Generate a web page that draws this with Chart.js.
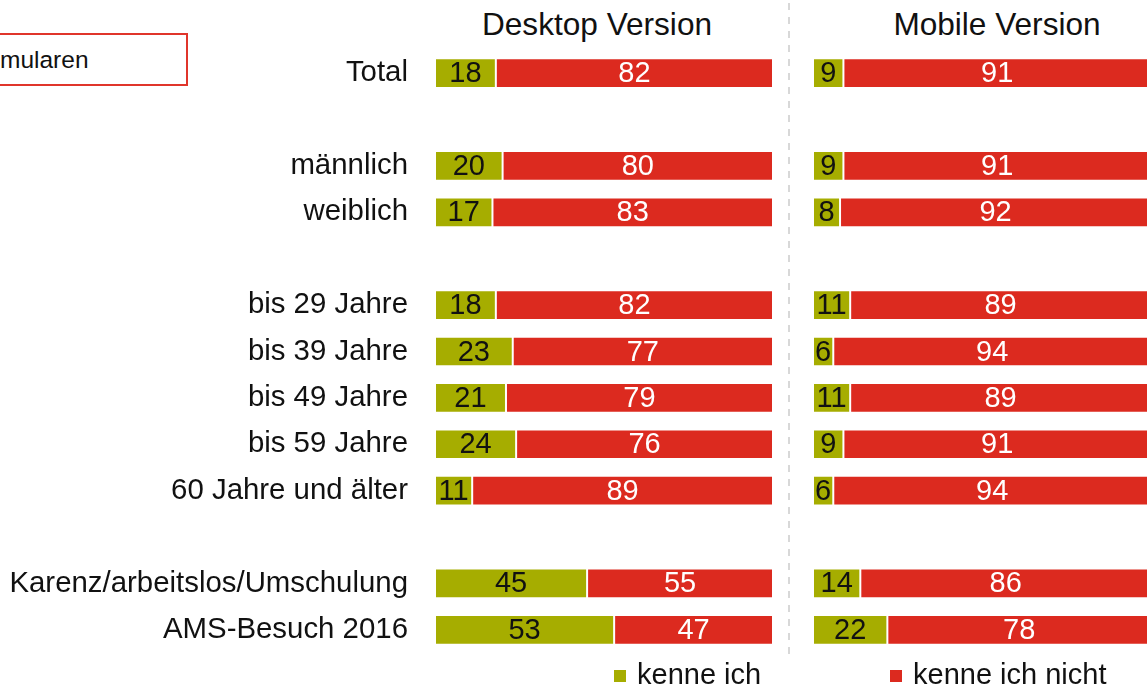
<!DOCTYPE html>
<html lang="de">
<head>
  <meta charset="UTF-8">
  <title>Desktop / Mobile Version</title>
  <style>
    body {
      margin: 0;
      width: 1147px;
      height: 685px;
      overflow: hidden;
      position: relative;
      background: #fff;
      font-family: "Liberation Sans", Arial, sans-serif;
      color: #111;
    }
    #desktop-chart { position: absolute; left: 0; top: 0; }
    #mobile-chart { position: absolute; left: 790px; top: 0; }

    .note {
      position: absolute;
      left: -20px;
      top: 33px;
      width: 186px;
      height: 49px;
      border: 2px solid #e0352b;
      font-size: 24.5px;
      line-height: 49px;
      padding-left: 18px;
      box-sizing: content-box;
    }
    .title {
      position: absolute;
      top: 8px;
      width: 400px;
      font-size: 31.6px;
      line-height: 32px;
      text-align: center;
    }
    .divider {
      position: absolute;
      left: 788px;
      top: 3px;
      width: 2px;
      height: 651px;
      background: repeating-linear-gradient(to bottom, #d8d8d8 0 7px, transparent 7px 14px);
    }
    .legend-item {
      position: absolute;
      top: 660px;
      font-size: 29px;
      line-height: 29px;
      white-space: nowrap;
    }
    .legend-item i {
      display: inline-block;
      width: 12px;
      height: 12px;
      margin-right: 11px;
      vertical-align: 2px;
    }
  </style>
</head>
<body>
  <div class="note">mularen</div>
  <div class="title" style="left: 397px;">Desktop Version</div>
  <div class="title" style="left: 797px;">Mobile Version</div>
  <div class="divider"></div>

  <canvas id="desktop-chart" width="790" height="685"></canvas>
  <canvas id="mobile-chart" width="380" height="685"></canvas>

  <div class="legend-item" style="left: 614px;"><i style="background:#a6ad00"></i>kenne ich</div>
  <div class="legend-item" style="left: 890px;"><i style="background:#dc2a1f"></i>kenne ich nicht</div>

  <script src="https://cdn.jsdelivr.net/npm/chart.js@4.4.1/dist/chart.umd.min.js"></script>
  <script>
    const GREEN = '#a6ad00';
    const RED = '#dc2a1f';

    // empty strings are the spacer rows between the groups
    const categories = [
      'Total', '',
      'männlich', 'weiblich', '',
      'bis 29 Jahre', 'bis 39 Jahre', 'bis 49 Jahre', 'bis 59 Jahre', '60 Jahre und älter', '',
      'Karenz/arbeitslos/Umschulung', 'AMS-Besuch 2016'
    ];

    const desktopKnown   = [18, null, 20, 17, null, 18, 23, 21, 24, 11, null, 45, 53];
    const desktopUnknown = [82, null, 80, 83, null, 82, 77, 79, 76, 89, null, 55, 47];
    const mobileKnown    = [9, null, 9, 8, null, 11, 6, 11, 9, 6, null, 14, 22];
    const mobileUnknown  = [91, null, 91, 92, null, 89, 94, 89, 91, 94, null, 86, 78];

    const FONT = '"Liberation Sans", Arial, sans-serif';

    // numbers in the middle of each segment
    const valueLabels = {
      id: 'valueLabels',
      afterDatasetsDraw(chart) {
        const ctx = chart.ctx;
        ctx.save();
        ctx.font = '29px ' + FONT;
        ctx.textAlign = 'center';
        ctx.textBaseline = 'middle';
        chart.data.datasets.forEach((ds, i) => {
          chart.getDatasetMeta(i).data.forEach((bar, j) => {
            const v = ds.data[j];
            if (v == null) return;
            ctx.fillStyle = ds.labelColor;
            ctx.fillText(String(v), (bar.x + bar.base) / 2, bar.y + 1);
          });
        });
        ctx.restore();
      }
    };

    function datasets(known, unknown) {
      const common = {
        borderWidth: 1,
        borderColor: 'rgba(255,255,255,0.55)',
        borderSkipped: false,
        barPercentage: 1,
        categoryPercentage: 0.64
      };
      return [
        Object.assign({ label: 'kenne ich', data: known, backgroundColor: GREEN, labelColor: '#111' }, common),
        Object.assign({ label: 'kenne ich nicht', data: unknown, backgroundColor: RED, labelColor: '#fff' }, common)
      ];
    }

    function makeChart(id, known, unknown, showLabels, padding) {
      const yAxis = {
        stacked: true,
        display: showLabels,
        border: { display: false },
        grid: { display: false, drawTicks: false },
        ticks: {
          padding: 27,
          color: '#111',
          font: { family: FONT, size: 29.4 }
        }
      };
      if (showLabels) {
        // fixed label column; the tick padding should not push the plot area in
        yAxis.afterFit = scale => {
          scale.width = 435;
          scale.paddingTop = 0;
          scale.paddingBottom = 0;
        };
      }
      return new Chart(document.getElementById(id), {
        type: 'bar',
        data: { labels: categories, datasets: datasets(known, unknown) },
        plugins: [valueLabels],
        options: {
          indexAxis: 'y',
          responsive: false,
          animation: false,
          layout: { padding },
          plugins: {
            legend: { display: false },
            tooltip: { enabled: false }
          },
          scales: {
            x: { stacked: true, min: 0, max: 100, display: false },
            y: yAxis
          }
        }
      });
    }

    makeChart('desktop-chart', desktopKnown, desktopUnknown, true,
      { top: 50, bottom: 32, left: 0, right: 17 });
    makeChart('mobile-chart', mobileKnown, mobileUnknown, false,
      { top: 50, bottom: 32, left: 23, right: 19 });
  </script>
</body>
</html>
